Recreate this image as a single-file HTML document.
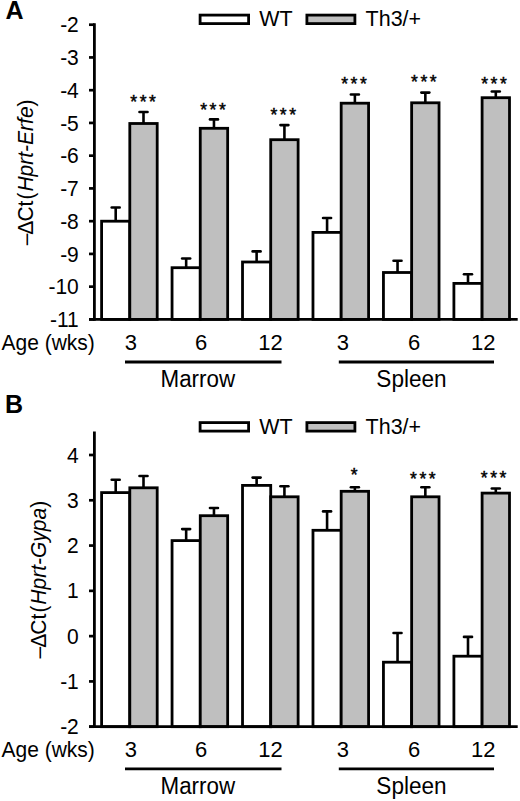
<!DOCTYPE html>
<html><head><meta charset="utf-8"><style>
html,body{margin:0;padding:0;background:#fff;width:520px;height:801px;overflow:hidden}
svg{display:block}
text{font-family:"Liberation Sans", sans-serif;fill:#000}
</style></head><body>
<svg width="520" height="801" viewBox="0 0 520 801">
<text x="5.6" y="19.4" font-weight="bold" font-size="25">A</text>
<rect x="200.1" y="15.1" width="48.5" height="8.5" fill="#fff" stroke="#000" stroke-width="2.8"/>
<text transform="translate(259.3,26.4) scale(1,1.035)" font-size="21.5">WT</text>
<rect x="306.9" y="15.1" width="48" height="8.5" fill="#bfbfbf" stroke="#000" stroke-width="2.8"/>
<text transform="translate(365.6,26.4) scale(1,1.035)" font-size="21.5">Th3/+</text>
<line x1="115.7" y1="221.2" x2="115.7" y2="207.5" stroke="#000" stroke-width="2.6"/>
<line x1="111.7" y1="207.5" x2="119.7" y2="207.5" stroke="#000" stroke-width="2.6" stroke-linecap="round"/>
<line x1="143.5" y1="123.5" x2="143.5" y2="112" stroke="#000" stroke-width="2.6"/>
<line x1="139.5" y1="112" x2="147.5" y2="112" stroke="#000" stroke-width="2.6" stroke-linecap="round"/>
<rect x="101.6" y="221.2" width="28.2" height="98.2" fill="#fff" stroke="#000" stroke-width="2.8"/>
<rect x="129.8" y="123.5" width="27.4" height="195.9" fill="#bfbfbf" stroke="#000" stroke-width="2.8"/>
<line x1="186.16" y1="267.7" x2="186.16" y2="258.5" stroke="#000" stroke-width="2.6"/>
<line x1="182.16" y1="258.5" x2="190.16" y2="258.5" stroke="#000" stroke-width="2.6" stroke-linecap="round"/>
<line x1="213.96" y1="128.3" x2="213.96" y2="119.4" stroke="#000" stroke-width="2.6"/>
<line x1="209.96" y1="119.4" x2="217.96" y2="119.4" stroke="#000" stroke-width="2.6" stroke-linecap="round"/>
<rect x="172.06" y="267.7" width="28.2" height="51.7" fill="#fff" stroke="#000" stroke-width="2.8"/>
<rect x="200.26" y="128.3" width="27.4" height="191.1" fill="#bfbfbf" stroke="#000" stroke-width="2.8"/>
<line x1="256.62" y1="262" x2="256.62" y2="251.4" stroke="#000" stroke-width="2.6"/>
<line x1="252.62" y1="251.4" x2="260.62" y2="251.4" stroke="#000" stroke-width="2.6" stroke-linecap="round"/>
<line x1="284.42" y1="139.7" x2="284.42" y2="125.1" stroke="#000" stroke-width="2.6"/>
<line x1="280.42" y1="125.1" x2="288.42" y2="125.1" stroke="#000" stroke-width="2.6" stroke-linecap="round"/>
<rect x="242.52" y="262" width="28.2" height="57.4" fill="#fff" stroke="#000" stroke-width="2.8"/>
<rect x="270.72" y="139.7" width="27.4" height="179.7" fill="#bfbfbf" stroke="#000" stroke-width="2.8"/>
<line x1="327.08" y1="232.4" x2="327.08" y2="218" stroke="#000" stroke-width="2.6"/>
<line x1="323.08" y1="218" x2="331.08" y2="218" stroke="#000" stroke-width="2.6" stroke-linecap="round"/>
<line x1="354.88" y1="103.2" x2="354.88" y2="94.5" stroke="#000" stroke-width="2.6"/>
<line x1="350.88" y1="94.5" x2="358.88" y2="94.5" stroke="#000" stroke-width="2.6" stroke-linecap="round"/>
<rect x="312.98" y="232.4" width="28.2" height="87" fill="#fff" stroke="#000" stroke-width="2.8"/>
<rect x="341.18" y="103.2" width="27.4" height="216.2" fill="#bfbfbf" stroke="#000" stroke-width="2.8"/>
<line x1="397.54" y1="272.5" x2="397.54" y2="260.7" stroke="#000" stroke-width="2.6"/>
<line x1="393.54" y1="260.7" x2="401.54" y2="260.7" stroke="#000" stroke-width="2.6" stroke-linecap="round"/>
<line x1="425.34" y1="102.8" x2="425.34" y2="92.6" stroke="#000" stroke-width="2.6"/>
<line x1="421.34" y1="92.6" x2="429.34" y2="92.6" stroke="#000" stroke-width="2.6" stroke-linecap="round"/>
<rect x="383.44" y="272.5" width="28.2" height="46.9" fill="#fff" stroke="#000" stroke-width="2.8"/>
<rect x="411.64" y="102.8" width="27.4" height="216.6" fill="#bfbfbf" stroke="#000" stroke-width="2.8"/>
<line x1="468" y1="283.4" x2="468" y2="274.2" stroke="#000" stroke-width="2.6"/>
<line x1="464" y1="274.2" x2="472" y2="274.2" stroke="#000" stroke-width="2.6" stroke-linecap="round"/>
<line x1="495.8" y1="97.7" x2="495.8" y2="91.5" stroke="#000" stroke-width="2.6"/>
<line x1="491.8" y1="91.5" x2="499.8" y2="91.5" stroke="#000" stroke-width="2.6" stroke-linecap="round"/>
<rect x="453.9" y="283.4" width="28.2" height="36" fill="#fff" stroke="#000" stroke-width="2.8"/>
<rect x="482.1" y="97.7" width="27.4" height="221.7" fill="#bfbfbf" stroke="#000" stroke-width="2.8"/>
<text x="130.32" y="107.64" font-size="17.5" letter-spacing="2.56" stroke="#000" stroke-width="0.5">***</text>
<text x="200.22" y="115.94" font-size="17.5" letter-spacing="2.56" stroke="#000" stroke-width="0.5">***</text>
<text x="270.42" y="120.94" font-size="17.5" letter-spacing="2.56" stroke="#000" stroke-width="0.5">***</text>
<text x="341.22" y="89.64" font-size="17.5" letter-spacing="2.56" stroke="#000" stroke-width="0.5">***</text>
<text x="411.02" y="88.34" font-size="17.5" letter-spacing="2.56" stroke="#000" stroke-width="0.5">***</text>
<text x="481.22" y="89.64" font-size="17.5" letter-spacing="2.56" stroke="#000" stroke-width="0.5">***</text>
<line x1="94.4" y1="23.3" x2="94.4" y2="320.8" stroke="#000" stroke-width="2.8"/>
<line x1="89" y1="319.4" x2="517.7" y2="319.4" stroke="#000" stroke-width="2.8"/>
<line x1="89" y1="24.7" x2="94.4" y2="24.7" stroke="#000" stroke-width="2.7"/>
<text transform="translate(78.8,32.3) scale(1,1.035)" font-size="21" text-anchor="end">-2</text>
<line x1="89" y1="57.44" x2="94.4" y2="57.44" stroke="#000" stroke-width="2.7"/>
<text transform="translate(78.8,65.04) scale(1,1.035)" font-size="21" text-anchor="end">-3</text>
<line x1="89" y1="90.19" x2="94.4" y2="90.19" stroke="#000" stroke-width="2.7"/>
<text transform="translate(78.8,97.79) scale(1,1.035)" font-size="21" text-anchor="end">-4</text>
<line x1="89" y1="122.93" x2="94.4" y2="122.93" stroke="#000" stroke-width="2.7"/>
<text transform="translate(78.8,130.53) scale(1,1.035)" font-size="21" text-anchor="end">-5</text>
<line x1="89" y1="155.68" x2="94.4" y2="155.68" stroke="#000" stroke-width="2.7"/>
<text transform="translate(78.8,163.28) scale(1,1.035)" font-size="21" text-anchor="end">-6</text>
<line x1="89" y1="188.42" x2="94.4" y2="188.42" stroke="#000" stroke-width="2.7"/>
<text transform="translate(78.8,196.02) scale(1,1.035)" font-size="21" text-anchor="end">-7</text>
<line x1="89" y1="221.17" x2="94.4" y2="221.17" stroke="#000" stroke-width="2.7"/>
<text transform="translate(78.8,228.77) scale(1,1.035)" font-size="21" text-anchor="end">-8</text>
<line x1="89" y1="253.91" x2="94.4" y2="253.91" stroke="#000" stroke-width="2.7"/>
<text transform="translate(78.8,261.51) scale(1,1.035)" font-size="21" text-anchor="end">-9</text>
<line x1="89" y1="286.66" x2="94.4" y2="286.66" stroke="#000" stroke-width="2.7"/>
<text transform="translate(78.8,294.26) scale(1,1.035)" font-size="21" text-anchor="end">-10</text>
<line x1="89" y1="319.4" x2="94.4" y2="319.4" stroke="#000" stroke-width="2.7"/>
<text transform="translate(78.8,327) scale(1,1.035)" font-size="21" text-anchor="end">-11</text>
<text transform="translate(32.8,245.3) rotate(-90) scale(1,1.035)" font-size="21">–<tspan dx="-1">Δ</tspan><tspan dx="-1">C</tspan>t<tspan dx="1.2">(</tspan><tspan dx="0.8" font-style="italic">Hprt-Erfe</tspan>)</text>
<text transform="translate(1.5,350.2) scale(1,1.035)" font-size="21">Age (wks)</text>
<text transform="translate(130.8,350.2) scale(1,1.035)" font-size="22" text-anchor="middle">3</text>
<text transform="translate(201.01,350.2) scale(1,1.035)" font-size="22" text-anchor="middle">6</text>
<text transform="translate(270.42,350.2) scale(1,1.035)" font-size="22" text-anchor="middle">12</text>
<text transform="translate(342.98,350.2) scale(1,1.035)" font-size="22" text-anchor="middle">3</text>
<text transform="translate(414.14,350.2) scale(1,1.035)" font-size="22" text-anchor="middle">6</text>
<text transform="translate(483.2,350.2) scale(1,1.035)" font-size="22" text-anchor="middle">12</text>
<line x1="125" y1="362" x2="281.5" y2="362" stroke="#000" stroke-width="2.8"/>
<line x1="338.8" y1="362" x2="494" y2="362" stroke="#000" stroke-width="2.8"/>
<text transform="translate(197.8,386.8) scale(1,1.035)" font-size="22.4" text-anchor="middle">Marrow</text>
<text transform="translate(411.5,386.8) scale(1,1.035)" font-size="22.6" text-anchor="middle">Spleen</text>
<text x="4.9" y="413.1" font-weight="bold" font-size="25">B</text>
<rect x="200.1" y="422.6" width="48.5" height="8.5" fill="#fff" stroke="#000" stroke-width="2.8"/>
<text transform="translate(259.3,433.9) scale(1,1.035)" font-size="21.5">WT</text>
<rect x="306.9" y="422.6" width="48" height="8.5" fill="#bfbfbf" stroke="#000" stroke-width="2.8"/>
<text transform="translate(365.6,433.9) scale(1,1.035)" font-size="21.5">Th3/+</text>
<line x1="115.7" y1="492.6" x2="115.7" y2="479.7" stroke="#000" stroke-width="2.6"/>
<line x1="111.7" y1="479.7" x2="119.7" y2="479.7" stroke="#000" stroke-width="2.6" stroke-linecap="round"/>
<line x1="143.5" y1="487.8" x2="143.5" y2="476" stroke="#000" stroke-width="2.6"/>
<line x1="139.5" y1="476" x2="147.5" y2="476" stroke="#000" stroke-width="2.6" stroke-linecap="round"/>
<rect x="101.6" y="492.6" width="28.2" height="234.1" fill="#fff" stroke="#000" stroke-width="2.8"/>
<rect x="129.8" y="487.8" width="27.4" height="238.9" fill="#bfbfbf" stroke="#000" stroke-width="2.8"/>
<line x1="186.16" y1="540.6" x2="186.16" y2="529.1" stroke="#000" stroke-width="2.6"/>
<line x1="182.16" y1="529.1" x2="190.16" y2="529.1" stroke="#000" stroke-width="2.6" stroke-linecap="round"/>
<line x1="213.96" y1="515.7" x2="213.96" y2="508" stroke="#000" stroke-width="2.6"/>
<line x1="209.96" y1="508" x2="217.96" y2="508" stroke="#000" stroke-width="2.6" stroke-linecap="round"/>
<rect x="172.06" y="540.6" width="28.2" height="186.1" fill="#fff" stroke="#000" stroke-width="2.8"/>
<rect x="200.26" y="515.7" width="27.4" height="211" fill="#bfbfbf" stroke="#000" stroke-width="2.8"/>
<line x1="256.62" y1="485.4" x2="256.62" y2="477.6" stroke="#000" stroke-width="2.6"/>
<line x1="252.62" y1="477.6" x2="260.62" y2="477.6" stroke="#000" stroke-width="2.6" stroke-linecap="round"/>
<line x1="284.42" y1="496.8" x2="284.42" y2="486.2" stroke="#000" stroke-width="2.6"/>
<line x1="280.42" y1="486.2" x2="288.42" y2="486.2" stroke="#000" stroke-width="2.6" stroke-linecap="round"/>
<rect x="242.52" y="485.4" width="28.2" height="241.3" fill="#fff" stroke="#000" stroke-width="2.8"/>
<rect x="270.72" y="496.8" width="27.4" height="229.9" fill="#bfbfbf" stroke="#000" stroke-width="2.8"/>
<line x1="327.08" y1="530.3" x2="327.08" y2="511.4" stroke="#000" stroke-width="2.6"/>
<line x1="323.08" y1="511.4" x2="331.08" y2="511.4" stroke="#000" stroke-width="2.6" stroke-linecap="round"/>
<line x1="354.88" y1="491.3" x2="354.88" y2="487.3" stroke="#000" stroke-width="2.6"/>
<line x1="350.88" y1="487.3" x2="358.88" y2="487.3" stroke="#000" stroke-width="2.6" stroke-linecap="round"/>
<rect x="312.98" y="530.3" width="28.2" height="196.4" fill="#fff" stroke="#000" stroke-width="2.8"/>
<rect x="341.18" y="491.3" width="27.4" height="235.4" fill="#bfbfbf" stroke="#000" stroke-width="2.8"/>
<line x1="397.54" y1="662.2" x2="397.54" y2="633" stroke="#000" stroke-width="2.6"/>
<line x1="393.54" y1="633" x2="401.54" y2="633" stroke="#000" stroke-width="2.6" stroke-linecap="round"/>
<line x1="425.34" y1="496.8" x2="425.34" y2="487.3" stroke="#000" stroke-width="2.6"/>
<line x1="421.34" y1="487.3" x2="429.34" y2="487.3" stroke="#000" stroke-width="2.6" stroke-linecap="round"/>
<rect x="383.44" y="662.2" width="28.2" height="64.5" fill="#fff" stroke="#000" stroke-width="2.8"/>
<rect x="411.64" y="496.8" width="27.4" height="229.9" fill="#bfbfbf" stroke="#000" stroke-width="2.8"/>
<line x1="468" y1="656.2" x2="468" y2="636.9" stroke="#000" stroke-width="2.6"/>
<line x1="464" y1="636.9" x2="472" y2="636.9" stroke="#000" stroke-width="2.6" stroke-linecap="round"/>
<line x1="495.8" y1="493.1" x2="495.8" y2="488.5" stroke="#000" stroke-width="2.6"/>
<line x1="491.8" y1="488.5" x2="499.8" y2="488.5" stroke="#000" stroke-width="2.6" stroke-linecap="round"/>
<rect x="453.9" y="656.2" width="28.2" height="70.5" fill="#fff" stroke="#000" stroke-width="2.8"/>
<rect x="482.1" y="493.1" width="27.4" height="233.6" fill="#bfbfbf" stroke="#000" stroke-width="2.8"/>
<text x="350.72" y="481.04" font-size="17.5" letter-spacing="2.56" stroke="#000" stroke-width="0.5">*</text>
<text x="410.02" y="484.74" font-size="17.5" letter-spacing="2.56" stroke="#000" stroke-width="0.5">***</text>
<text x="480.82" y="484.04" font-size="17.5" letter-spacing="2.56" stroke="#000" stroke-width="0.5">***</text>
<line x1="94.4" y1="431.4" x2="94.4" y2="728.1" stroke="#000" stroke-width="2.8"/>
<line x1="89" y1="726.7" x2="517.7" y2="726.7" stroke="#000" stroke-width="2.8"/>
<line x1="89" y1="455" x2="94.4" y2="455" stroke="#000" stroke-width="2.7"/>
<text transform="translate(78.8,462.6) scale(1,1.035)" font-size="21" text-anchor="end">4</text>
<line x1="89" y1="500.28" x2="94.4" y2="500.28" stroke="#000" stroke-width="2.7"/>
<text transform="translate(78.8,507.88) scale(1,1.035)" font-size="21" text-anchor="end">3</text>
<line x1="89" y1="545.57" x2="94.4" y2="545.57" stroke="#000" stroke-width="2.7"/>
<text transform="translate(78.8,553.17) scale(1,1.035)" font-size="21" text-anchor="end">2</text>
<line x1="89" y1="590.85" x2="94.4" y2="590.85" stroke="#000" stroke-width="2.7"/>
<text transform="translate(78.8,598.45) scale(1,1.035)" font-size="21" text-anchor="end">1</text>
<line x1="89" y1="636.13" x2="94.4" y2="636.13" stroke="#000" stroke-width="2.7"/>
<text transform="translate(78.8,643.73) scale(1,1.035)" font-size="21" text-anchor="end">0</text>
<line x1="89" y1="681.42" x2="94.4" y2="681.42" stroke="#000" stroke-width="2.7"/>
<text transform="translate(78.8,689.02) scale(1,1.035)" font-size="21" text-anchor="end">-1</text>
<line x1="89" y1="726.7" x2="94.4" y2="726.7" stroke="#000" stroke-width="2.7"/>
<text transform="translate(78.8,734.3) scale(1,1.035)" font-size="21" text-anchor="end">-2</text>
<text transform="translate(45.6,658.4) rotate(-90) scale(1,1.035)" font-size="21">–<tspan dx="-1">Δ</tspan><tspan dx="-1">C</tspan>t<tspan dx="1.2">(</tspan><tspan dx="0.8" font-style="italic">Hprt-Gypa</tspan>)</text>
<text transform="translate(1.5,757.4) scale(1,1.035)" font-size="21">Age (wks)</text>
<text transform="translate(130.8,757.4) scale(1,1.035)" font-size="22" text-anchor="middle">3</text>
<text transform="translate(201.01,757.4) scale(1,1.035)" font-size="22" text-anchor="middle">6</text>
<text transform="translate(270.42,757.4) scale(1,1.035)" font-size="22" text-anchor="middle">12</text>
<text transform="translate(342.98,757.4) scale(1,1.035)" font-size="22" text-anchor="middle">3</text>
<text transform="translate(414.14,757.4) scale(1,1.035)" font-size="22" text-anchor="middle">6</text>
<text transform="translate(483.2,757.4) scale(1,1.035)" font-size="22" text-anchor="middle">12</text>
<line x1="125" y1="768.9" x2="281.5" y2="768.9" stroke="#000" stroke-width="2.8"/>
<line x1="338.8" y1="768.9" x2="494" y2="768.9" stroke="#000" stroke-width="2.8"/>
<text transform="translate(197.8,794.2) scale(1,1.035)" font-size="22.4" text-anchor="middle">Marrow</text>
<text transform="translate(411.5,794.2) scale(1,1.035)" font-size="22.6" text-anchor="middle">Spleen</text>
</svg>
</body></html>
